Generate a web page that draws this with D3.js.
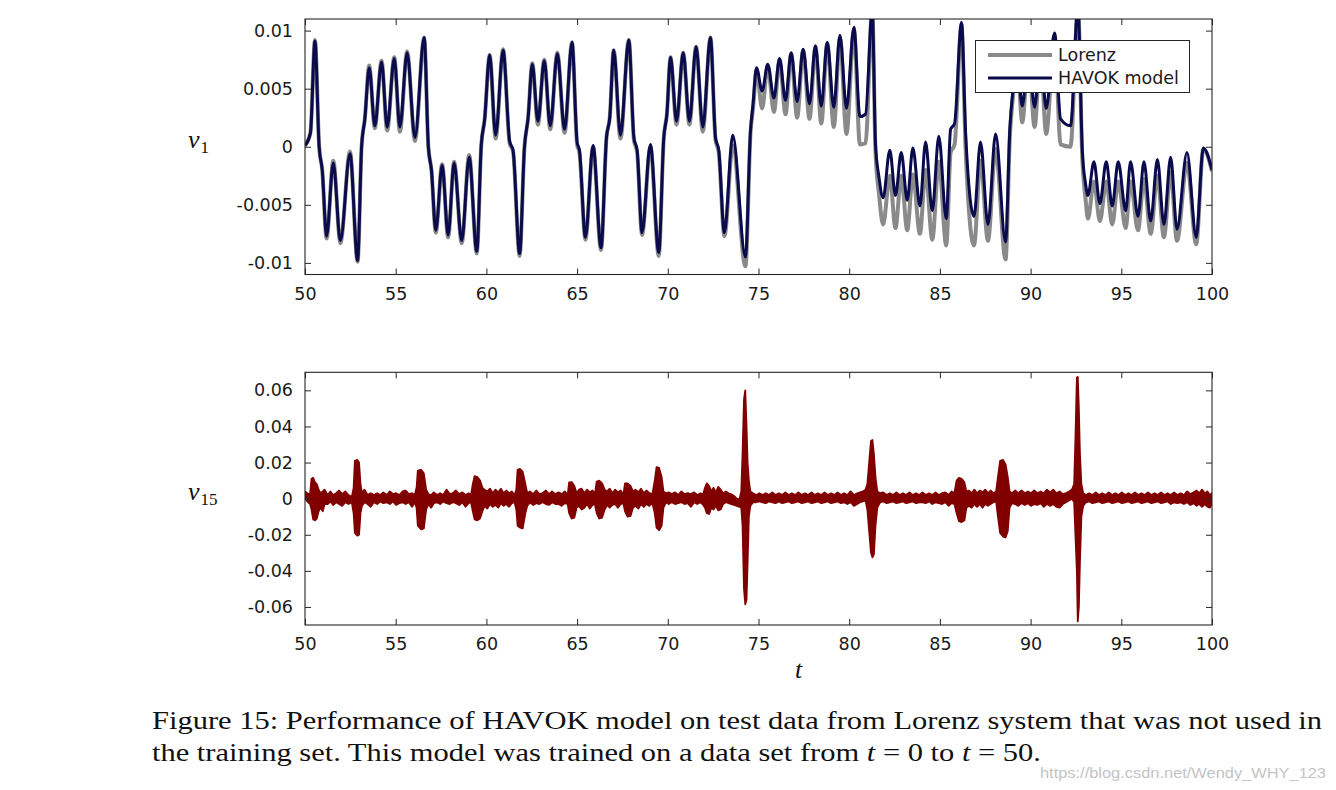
<!DOCTYPE html>
<html><head><meta charset="utf-8">
<script src="https://cdn.jsdelivr.net/npm/d3@7"></script>
<style>body{margin:0;background:#fff} svg{display:block}</style>
</head><body>
<svg id="chart" width="1336" height="790"></svg>
<script>
// ---------------- data ----------------
const tTicks = [50, 55, 60, 65, 70, 75, 80, 85, 90, 95, 100];
const v1Ticks = [-0.01, -0.005, 0, 0.005, 0.01];
const v1TickLabels = ["-0.01", "-0.005", "0", "0.005", "0.01"];
const v15Ticks = [-0.06, -0.04, -0.02, 0, 0.02, 0.04, 0.06];
const v15TickLabels = ["-0.06", "-0.04", "-0.02", "0", "0.02", "0.04", "0.06"];
const seriesNames = ["Lorenz", "HAVOK model"];

// v1: extrema / shoulder points
const v1Time = [
 50.00,50.30,50.55,50.78,50.95,51.19,51.56,51.95,52.48,52.90,53.12,53.30,53.54,53.85,54.22,54.53,54.92,55.23,55.63,56.06,
 56.57,56.80,56.97,57.21,57.56,57.89,58.22,58.64,59.05,59.47,59.72,59.90,60.18,60.51,60.92,61.28,61.47,61.83,62.10,62.30,
 62.53,62.84,63.19,63.52,63.91,64.31,64.72,65.00,65.13,65.46,65.88,66.32,66.62,66.80,67.02,67.39,67.85,68.13,68.31,68.58,
 69.04,69.50,69.78,69.95,70.15,70.48,70.85,71.19,71.56,71.93,72.35,72.63,72.81,73.12,73.58,74.28,74.56,74.70,74.89,75.20,
 75.51,75.85,76.16,76.49,76.80,77.13,77.46,77.81,78.14,78.46,78.79,79.15,79.49,79.85,80.26,80.59,80.90,81.27,81.45,81.64,
 81.87,82.24,82.55,82.87,83.20,83.51,83.90,84.21,84.58,84.94,85.35,85.59,85.81,86.19,86.42,86.88,87.24,87.65,88.07,88.62,
 88.86,89.04,89.25,89.54,89.88,90.22,90.54,90.86,91.32,91.65,92.20,92.61,92.85,93.03,93.16,93.49,93.82,94.17,94.50,94.83,
 95.24,95.51,95.92,96.25,96.62,96.99,97.35,97.72,98.07,98.62,99.13,99.52,100.00
];
const lorenzV1 = [
 0.0001,0.0012,0.0092,0.0000,-0.0020,-0.0079,-0.0012,-0.0083,-0.0004,-0.0099,0.0000,0.0024,0.0070,0.0016,0.0074,0.0014,0.0077,0.0013,0.0082,0.0005,
 0.0094,0.0000,-0.0020,-0.0074,-0.0015,-0.0078,-0.0013,-0.0083,-0.0007,-0.0092,0.0002,0.0023,0.0079,0.0007,0.0084,0.0003,-0.0004,-0.0094,0.0000,0.0025,
 0.0072,0.0019,0.0075,0.0015,0.0081,0.0012,0.0090,0.0002,-0.0005,-0.0080,0.0000,-0.0089,0.0008,0.0025,0.0083,0.0007,0.0092,0.0006,-0.0005,-0.0076,
 0.0000,-0.0094,0.0008,0.0028,0.0077,0.0019,0.0081,0.0019,0.0086,0.0013,0.0094,0.0006,-0.0005,-0.0077,0.0001,-0.0103,0.0012,0.0033,0.0066,0.0033,
 0.0070,0.0030,0.0075,0.0028,0.0080,0.0025,0.0083,0.0024,0.0086,0.0020,0.0089,0.0017,0.0094,0.0011,0.0101,0.0002,0.0003,0.0118,-0.0005,-0.0040,
 -0.0067,-0.0025,-0.0070,-0.0025,-0.0072,-0.0024,-0.0075,-0.0020,-0.0080,-0.0013,-0.0085,-0.0005,0.0002,0.0105,-0.0003,-0.0085,-0.0012,-0.0081,-0.0002,-0.0097,
 0.0010,0.0045,0.0075,0.0021,0.0079,0.0017,0.0080,0.0011,0.0096,0.0002,0.0000,0.0120,-0.0010,-0.0045,-0.0062,-0.0030,-0.0064,-0.0030,-0.0067,-0.0030,
 -0.0070,-0.0030,-0.0072,-0.0028,-0.0075,-0.0025,-0.0078,-0.0022,-0.0081,-0.0014,-0.0084,-0.0002,-0.0021
];
const havokV1 = [
 0.0001,0.0012,0.0091,0.0000,-0.0020,-0.0077,-0.0014,-0.0081,-0.0006,-0.0098,0.0000,0.0024,0.0068,0.0018,0.0073,0.0017,0.0076,0.0017,0.0081,0.0008,
 0.0094,0.0000,-0.0020,-0.0072,-0.0016,-0.0076,-0.0014,-0.0081,-0.0009,-0.0090,0.0002,0.0023,0.0079,0.0010,0.0083,0.0005,-0.0003,-0.0092,0.0000,0.0025,
 0.0071,0.0022,0.0074,0.0018,0.0080,0.0015,0.0090,0.0004,-0.0003,-0.0078,0.0001,-0.0087,0.0008,0.0025,0.0083,0.0010,0.0092,0.0008,-0.0003,-0.0074,
 0.0002,-0.0091,0.0008,0.0028,0.0077,0.0022,0.0081,0.0022,0.0086,0.0017,0.0094,0.0008,-0.0003,-0.0074,0.0010,-0.0095,0.0014,0.0037,0.0068,0.0048,
 0.0071,0.0042,0.0076,0.0040,0.0081,0.0039,0.0084,0.0037,0.0087,0.0035,0.0090,0.0034,0.0096,0.0033,0.0103,0.0026,0.0028,0.0118,0.0002,-0.0026,
 -0.0044,-0.0003,-0.0042,-0.0005,-0.0046,-0.0001,-0.0051,0.0004,-0.0055,0.0009,-0.0062,0.0015,0.0020,0.0107,0.0011,-0.0060,0.0004,-0.0067,0.0011,-0.0082,
 0.0017,0.0051,0.0075,0.0035,0.0080,0.0034,0.0082,0.0033,0.0098,0.0024,0.0018,0.0120,-0.0003,-0.0032,-0.0042,-0.0013,-0.0049,-0.0013,-0.0051,-0.0013,
 -0.0055,-0.0013,-0.0060,-0.0013,-0.0064,-0.0011,-0.0067,-0.0009,-0.0071,-0.0005,-0.0078,-0.0001,-0.0020
];

// v15: upper / lower envelope of the fast-oscillating trace, [t, upper, lower]
const v15Band = [
[50.00,0.0040,0.0005],[50.12,0.0030,-0.0015],[50.28,0.0025,-0.0030],[50.36,0.0110,-0.0060],[50.45,0.0115,-0.0115],
[50.55,0.0090,-0.0120],[50.65,0.0080,-0.0110],[50.75,0.0050,-0.0070],[50.85,0.0030,-0.0050],[50.98,0.0040,-0.0070],
[51.08,0.0050,-0.0030],[51.25,0.0020,-0.0030],[51.40,0.0040,-0.0015],[51.55,0.0020,-0.0035],[51.72,0.0030,-0.0020],
[51.88,0.0045,-0.0030],[52.05,0.0025,-0.0040],[52.22,0.0040,-0.0020],[52.40,0.0020,-0.0030],[52.58,0.0010,-0.0020],
[52.68,0.0060,-0.0080],[52.75,0.0210,-0.0190],[52.88,0.0215,-0.0205],[52.98,0.0200,-0.0200],[53.06,0.0080,-0.0080],
[53.14,0.0030,-0.0040],[53.28,0.0050,-0.0020],[53.45,0.0020,-0.0030],[53.62,0.0030,-0.0045],[53.80,0.0020,-0.0020],
[53.98,0.0030,-0.0030],[54.15,0.0020,-0.0015],[54.32,0.0035,-0.0025],[54.50,0.0020,-0.0020],[54.68,0.0040,-0.0030],
[54.85,0.0025,-0.0015],[55.02,0.0030,-0.0035],[55.20,0.0020,-0.0025],[55.38,0.0040,-0.0020],[55.55,0.0045,-0.0030],
[55.72,0.0025,-0.0020],[55.90,0.0030,-0.0045],[56.05,0.0020,-0.0020],[56.15,0.0060,-0.0050],[56.22,0.0155,-0.0150],
[56.40,0.0160,-0.0170],[56.55,0.0140,-0.0165],[56.68,0.0050,-0.0060],[56.80,0.0025,-0.0030],[56.95,0.0020,-0.0050],
[57.10,0.0035,-0.0025],[57.28,0.0020,-0.0020],[57.45,0.0030,-0.0030],[57.62,0.0020,-0.0015],[57.80,0.0050,-0.0025],
[57.98,0.0025,-0.0030],[58.15,0.0030,-0.0020],[58.32,0.0045,-0.0025],[58.50,0.0025,-0.0035],[58.68,0.0035,-0.0020],
[58.85,0.0020,-0.0045],[59.02,0.0030,-0.0025],[59.15,0.0020,-0.0020],[59.25,0.0080,-0.0070],[59.35,0.0125,-0.0115],
[59.50,0.0120,-0.0120],[59.65,0.0100,-0.0110],[59.78,0.0060,-0.0070],[59.90,0.0050,-0.0040],[60.05,0.0040,-0.0055],
[60.20,0.0055,-0.0030],[60.35,0.0030,-0.0045],[60.50,0.0050,-0.0035],[60.65,0.0035,-0.0050],[60.80,0.0055,-0.0025],
[60.95,0.0030,-0.0040],[61.10,0.0045,-0.0030],[61.25,0.0030,-0.0045],[61.40,0.0040,-0.0025],[61.55,0.0020,-0.0020],
[61.65,0.0050,-0.0060],[61.72,0.0160,-0.0150],[61.85,0.0165,-0.0160],[62.00,0.0150,-0.0165],[62.15,0.0080,-0.0080],
[62.25,0.0030,-0.0040],[62.40,0.0040,-0.0020],[62.58,0.0025,-0.0035],[62.75,0.0045,-0.0025],[62.92,0.0025,-0.0030],
[63.10,0.0030,-0.0020],[63.28,0.0045,-0.0030],[63.45,0.0025,-0.0035],[63.62,0.0040,-0.0020],[63.80,0.0025,-0.0030],
[63.98,0.0035,-0.0030],[64.15,0.0025,-0.0040],[64.32,0.0040,-0.0025],[64.48,0.0020,-0.0030],[64.56,0.0090,-0.0080],
[64.70,0.0092,-0.0110],[64.85,0.0070,-0.0105],[64.97,0.0030,-0.0050],[65.10,0.0050,-0.0040],[65.25,0.0055,-0.0060],
[65.40,0.0030,-0.0050],[65.55,0.0050,-0.0030],[65.70,0.0035,-0.0055],[65.85,0.0045,-0.0035],[65.98,0.0025,-0.0030],
[66.08,0.0095,-0.0080],[66.22,0.0100,-0.0110],[66.38,0.0085,-0.0105],[66.52,0.0050,-0.0060],[66.65,0.0040,-0.0035],
[66.80,0.0055,-0.0050],[66.95,0.0030,-0.0035],[67.10,0.0050,-0.0030],[67.25,0.0035,-0.0050],[67.40,0.0045,-0.0030],
[67.55,0.0020,-0.0025],[67.64,0.0085,-0.0070],[67.78,0.0085,-0.0100],[67.95,0.0070,-0.0095],[68.08,0.0040,-0.0050],
[68.22,0.0050,-0.0040],[68.38,0.0035,-0.0055],[68.52,0.0055,-0.0030],[68.68,0.0030,-0.0045],[68.82,0.0045,-0.0030],
[68.98,0.0030,-0.0040],[69.15,0.0025,-0.0025],[69.28,0.0100,-0.0080],[69.38,0.0175,-0.0160],[69.52,0.0170,-0.0175],
[69.66,0.0120,-0.0150],[69.76,0.0040,-0.0050],[69.90,0.0030,-0.0020],[70.05,0.0035,-0.0030],[70.22,0.0025,-0.0020],
[70.40,0.0035,-0.0030],[70.58,0.0020,-0.0025],[70.75,0.0040,-0.0020],[70.92,0.0025,-0.0030],[71.10,0.0030,-0.0025],
[71.28,0.0025,-0.0045],[71.45,0.0035,-0.0020],[71.62,0.0020,-0.0030],[71.80,0.0030,-0.0020],[71.95,0.0025,-0.0035],
[72.05,0.0060,-0.0050],[72.15,0.0085,-0.0080],[72.28,0.0070,-0.0085],[72.40,0.0040,-0.0050],[72.52,0.0060,-0.0060],
[72.65,0.0035,-0.0040],[72.78,0.0065,-0.0065],[72.92,0.0050,-0.0060],[73.05,0.0030,-0.0030],[73.20,0.0040,-0.0020],
[73.35,0.0030,-0.0025],[73.50,0.0025,-0.0030],[73.65,0.0015,-0.0035],[73.80,0.0000,-0.0040],[73.95,-0.0005,-0.0045],
[74.05,0.0040,-0.0050],[74.12,0.0250,-0.0150],[74.20,0.0550,-0.0500],[74.27,0.0600,-0.0585],[74.34,0.0400,-0.0560],
[74.40,0.0200,-0.0350],[74.47,0.0100,-0.0100],[74.55,0.0040,-0.0040],[74.70,0.0030,-0.0020],[74.88,0.0020,-0.0020],
[75.05,0.0030,-0.0015],[75.22,0.0020,-0.0020],[75.40,0.0030,-0.0025],[75.58,0.0020,-0.0015],[75.76,0.0035,-0.0020],
[75.94,0.0020,-0.0025],[76.12,0.0030,-0.0015],[76.30,0.0020,-0.0025],[76.48,0.0035,-0.0020],[76.66,0.0020,-0.0015],
[76.84,0.0030,-0.0025],[77.02,0.0020,-0.0020],[77.20,0.0035,-0.0015],[77.38,0.0020,-0.0025],[77.56,0.0030,-0.0020],
[77.74,0.0020,-0.0015],[77.92,0.0035,-0.0025],[78.10,0.0020,-0.0020],[78.28,0.0030,-0.0015],[78.46,0.0020,-0.0025],
[78.64,0.0035,-0.0020],[78.82,0.0020,-0.0015],[79.00,0.0030,-0.0025],[79.18,0.0020,-0.0020],[79.36,0.0035,-0.0015],
[79.54,0.0020,-0.0025],[79.72,0.0030,-0.0020],[79.90,0.0020,-0.0030],[80.08,0.0040,-0.0020],[80.26,0.0020,-0.0040],
[80.44,0.0030,-0.0030],[80.60,0.0035,-0.0020],[80.75,0.0040,-0.0015],[80.90,0.0050,-0.0010],[81.00,0.0080,-0.0060],
[81.10,0.0200,-0.0180],[81.20,0.0320,-0.0300],[81.28,0.0325,-0.0325],[81.36,0.0250,-0.0310],[81.45,0.0120,-0.0150],
[81.55,0.0040,-0.0050],[81.70,0.0030,-0.0020],[81.88,0.0035,-0.0015],[82.06,0.0020,-0.0025],[82.24,0.0030,-0.0020],
[82.42,0.0020,-0.0015],[82.60,0.0035,-0.0025],[82.78,0.0020,-0.0020],[82.96,0.0030,-0.0015],[83.14,0.0020,-0.0025],
[83.32,0.0035,-0.0020],[83.50,0.0020,-0.0015],[83.68,0.0030,-0.0025],[83.86,0.0020,-0.0020],[84.04,0.0035,-0.0020],
[84.22,0.0020,-0.0025],[84.40,0.0030,-0.0015],[84.58,0.0020,-0.0030],[84.76,0.0035,-0.0020],[84.94,0.0020,-0.0025],
[85.12,0.0030,-0.0030],[85.30,0.0035,-0.0020],[85.48,0.0020,-0.0040],[85.65,0.0040,-0.0025],[85.80,0.0030,-0.0030],
[85.92,0.0100,-0.0080],[86.05,0.0115,-0.0125],[86.20,0.0110,-0.0130],[86.35,0.0090,-0.0120],[86.46,0.0040,-0.0050],
[86.60,0.0045,-0.0040],[86.75,0.0030,-0.0050],[86.90,0.0050,-0.0030],[87.05,0.0030,-0.0045],[87.20,0.0045,-0.0030],
[87.35,0.0035,-0.0050],[87.50,0.0050,-0.0030],[87.65,0.0030,-0.0040],[87.80,0.0045,-0.0030],[87.95,0.0030,-0.0020],
[88.10,0.0040,-0.0015],[88.20,0.0120,-0.0100],[88.32,0.0210,-0.0190],[88.48,0.0215,-0.0210],[88.62,0.0190,-0.0215],
[88.74,0.0120,-0.0180],[88.84,0.0040,-0.0050],[88.98,0.0030,-0.0025],[89.15,0.0045,-0.0030],[89.32,0.0030,-0.0040],
[89.50,0.0045,-0.0025],[89.68,0.0030,-0.0035],[89.85,0.0040,-0.0025],[90.02,0.0030,-0.0040],[90.20,0.0045,-0.0030],
[90.38,0.0030,-0.0035],[90.55,0.0040,-0.0025],[90.72,0.0030,-0.0045],[90.90,0.0050,-0.0030],[91.08,0.0035,-0.0040],
[91.25,0.0050,-0.0030],[91.42,0.0030,-0.0045],[91.60,0.0040,-0.0050],[91.78,0.0025,-0.0030],[91.95,0.0030,-0.0020],
[92.12,0.0040,-0.0010],[92.28,0.0050,0.0000],[92.40,0.0080,-0.0020],[92.47,0.0330,-0.0200],[92.55,0.0670,-0.0400],
[92.60,0.0675,-0.0680],[92.66,0.0500,-0.0600],[92.72,0.0250,-0.0350],[92.80,0.0080,-0.0100],[92.90,0.0030,-0.0040],
[93.05,0.0020,-0.0020],[93.23,0.0030,-0.0015],[93.41,0.0020,-0.0025],[93.59,0.0035,-0.0020],[93.77,0.0020,-0.0015],
[93.95,0.0030,-0.0025],[94.13,0.0020,-0.0020],[94.31,0.0035,-0.0015],[94.49,0.0020,-0.0025],[94.67,0.0030,-0.0020],
[94.85,0.0020,-0.0015],[95.03,0.0035,-0.0025],[95.21,0.0020,-0.0020],[95.39,0.0030,-0.0015],[95.57,0.0020,-0.0025],
[95.75,0.0035,-0.0020],[95.93,0.0020,-0.0015],[96.11,0.0030,-0.0025],[96.29,0.0020,-0.0020],[96.47,0.0035,-0.0015],
[96.65,0.0020,-0.0025],[96.83,0.0030,-0.0020],[97.01,0.0020,-0.0015],[97.19,0.0035,-0.0025],[97.37,0.0020,-0.0020],
[97.55,0.0030,-0.0015],[97.73,0.0020,-0.0030],[97.91,0.0035,-0.0020],[98.09,0.0020,-0.0025],[98.27,0.0030,-0.0020],
[98.45,0.0020,-0.0030],[98.63,0.0040,-0.0020],[98.81,0.0025,-0.0035],[98.99,0.0035,-0.0025],[99.15,0.0045,-0.0040],
[99.30,0.0030,-0.0030],[99.45,0.0050,-0.0045],[99.60,0.0030,-0.0030],[99.75,0.0040,-0.0045],[99.88,0.0020,-0.0050],
[100.00,0.0030,-0.0030]
];

// ---------------- drawing ----------------
const svg = d3.select("#chart");
svg.append("rect").attr("width", 1336).attr("height", 790).attr("fill", "#fff");

const L = 305, R = 1212;
const P1 = {top: 19, bottom: 274.5};
const P2 = {top: 372.3, bottom: 625};
const x = d3.scaleLinear([50, 100], [L, R]);
const y1 = d3.scaleLinear([-0.011, 0.011], [P1.bottom, P1.top]);
const y2 = d3.scaleLinear([-0.07, 0.07], [P2.bottom, P2.top]);

const FONT = "'DejaVu Sans', sans-serif";
const AX = "#262626";
const LORENZ = "#8a8a8a", HAVOK = "#0a0b4d", V15 = "#800000";

const defs = svg.append("defs");
defs.append("clipPath").attr("id", "c1").append("rect")
  .attr("x", L).attr("y", P1.top).attr("width", R - L).attr("height", P1.bottom - P1.top);
defs.append("clipPath").attr("id", "c2").append("rect")
  .attr("x", L).attr("y", P2.top).attr("width", R - L).attr("height", P2.bottom - P2.top);

// top panel lines
const idx = d3.range(v1Time.length);
const lineL = d3.line().x(i => x(v1Time[i])).y(i => y1(lorenzV1[i])).curve(d3.curveMonotoneX);
const lineH = d3.line().x(i => x(v1Time[i])).y(i => y1(havokV1[i])).curve(d3.curveMonotoneX);
const g1 = svg.append("g").attr("clip-path", "url(#c1)");
g1.append("path").attr("d", lineL(idx)).attr("fill", "none").attr("stroke", LORENZ)
  .attr("stroke-width", 4).attr("stroke-linejoin", "round");
g1.append("path").attr("d", lineH(idx)).attr("fill", "none").attr("stroke", HAVOK)
  .attr("stroke-width", 3).attr("stroke-linejoin", "round");

// bottom panel band
const area = d3.area().x(d => x(d[0])).y0(d => y2(d[2])).y1(d => y2(d[1]));
svg.append("g").attr("clip-path", "url(#c2)")
  .append("path").attr("d", area(v15Band)).attr("fill", V15).attr("stroke", V15)
  .attr("stroke-width", 1.8).attr("stroke-linejoin", "round");

function axes(P, yScale, ticks, labels) {
  const g = svg.append("g").attr("color", AX);
  const fmt = d3.format("d");
  g.append("g").attr("transform", `translate(0,${P.bottom})`)
    .call(d3.axisBottom(x).tickValues(tTicks).tickFormat(fmt).tickSizeInner(-6).tickSizeOuter(0).tickPadding(13));
  g.append("g").attr("transform", `translate(0,${P.top})`)
    .call(d3.axisTop(x).tickValues(tTicks).tickFormat(() => "").tickSizeInner(-6).tickSizeOuter(0));
  g.append("g").attr("transform", `translate(${L},0)`)
    .call(d3.axisLeft(yScale).tickValues(ticks).tickFormat((d, i) => labels[i]).tickSizeInner(-6).tickSizeOuter(0).tickPadding(12));
  g.append("g").attr("transform", `translate(${R},0)`)
    .call(d3.axisRight(yScale).tickValues(ticks).tickFormat(() => "").tickSizeInner(-6).tickSizeOuter(0));
  g.selectAll(".domain").remove();
  g.selectAll("text").attr("font-family", FONT).attr("font-size", 17.5).attr("fill", "#1a1a1a");
  g.append("rect").attr("x", L).attr("y", P.top).attr("width", R - L).attr("height", P.bottom - P.top)
    .attr("fill", "none").attr("stroke", AX).attr("stroke-width", 1.1);
}
axes(P1, y1, v1Ticks, v1TickLabels);
axes(P2, y2, v15Ticks, v15TickLabels);

// legend
const lg = svg.append("g");
lg.append("rect").attr("x", 975.5).attr("y", 40.5).attr("width", 214).attr("height", 52)
  .attr("fill", "#fff").attr("stroke", AX).attr("stroke-width", 1);
[[LORENZ, 4, 55], [HAVOK, 3, 78]].forEach((s, i) => {
  lg.append("line").attr("x1", 988).attr("x2", 1052).attr("y1", s[2]).attr("y2", s[2])
    .attr("stroke", s[0]).attr("stroke-width", s[1]);
  lg.append("text").attr("x", 1058).attr("y", s[2]).attr("dy", "0.35em")
    .attr("font-family", FONT).attr("font-size", 17.5).attr("fill", "#1a1a1a").text(seriesNames[i]);
});

// axis labels (math italic)
const SERIF = "'Liberation Serif', 'DejaVu Serif', serif";
function mathLabel(xp, yp, base, sub) {
  const t = svg.append("text").attr("x", xp).attr("y", yp).attr("font-family", SERIF).attr("fill", "#111");
  t.append("tspan").attr("font-style", "italic").attr("font-size", 26).text(base);
  if (sub) t.append("tspan").attr("font-size", 17).attr("dy", 5).attr("dx", 1).text(sub);
}
mathLabel(188, 148, "v", "1");
mathLabel(188, 500, "v", "15");
mathLabel(795, 678, "t", null);

// caption
const cap1 = svg.append("text").attr("x", 152).attr("y", 729).attr("font-family", SERIF)
  .attr("font-size", 25).attr("fill", "#111").attr("textLength", 1170).attr("lengthAdjust", "spacingAndGlyphs");
cap1.text("Figure 15: Performance of HAVOK model on test data from Lorenz system that was not used in");
const cap2 = svg.append("text").attr("x", 152).attr("y", 761).attr("font-family", SERIF)
  .attr("font-size", 25).attr("fill", "#111").attr("textLength", 889).attr("lengthAdjust", "spacingAndGlyphs");
cap2.append("tspan").text("the training set. This model was trained on a data set from ");
cap2.append("tspan").attr("font-style", "italic").text("t");
cap2.append("tspan").text(" = 0 to ");
cap2.append("tspan").attr("font-style", "italic").text("t");
cap2.append("tspan").text(" = 50.");

svg.append("text").attr("x", 1040).attr("y", 778).attr("font-family", "'Liberation Sans', sans-serif")
  .attr("font-size", 14).attr("fill", "#c4c4c4").attr("textLength", 286).attr("lengthAdjust", "spacingAndGlyphs")
  .text("https://blog.csdn.net/Wendy_WHY_123");
</script>
</body></html>
